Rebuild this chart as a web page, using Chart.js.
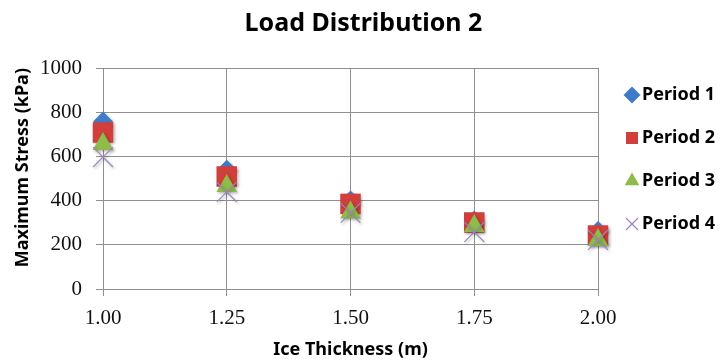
<!DOCTYPE html>
<html>
<head>
<meta charset="utf-8">
<script src="https://cdn.jsdelivr.net/npm/chart.js@4.4.1/dist/chart.umd.min.js"></script>
<style>
  body { margin: 0; background: #fff; }
  #wrap { width: 720px; height: 362px; }
</style>
</head>
<body>
<div id="wrap"><canvas id="stressChart"></canvas></div>
<script>
// Ice thickness (m) on the x axis
const thickness = [1.00, 1.25, 1.50, 1.75, 2.00];

// Maximum stress (kPa) per period
const period1 = [758, 540, 400, 310, 262];
const period2 = [708, 509, 385, 301, 242];
const period3 = [656, 466, 346, 285, 222];
const period4 = [597, 439, 344, 258, 222];

const seriesNames = ['Period 1', 'Period 2', 'Period 3', 'Period 4'];

const gridColor = '#8f8f8f';

function points(values) {
  return thickness.map((t, i) => ({ x: t, y: values[i] }));
}

function makeSeries(label, values, style, color, radius, order) {
  const isCross = style === 'crossRot';
  return {
    label: label,
    data: points(values),
    pointStyle: style,
    pointRadius: radius,
    pointHoverRadius: radius,
    backgroundColor: color,
    borderColor: color,
    pointBorderWidth: isCross ? 1.2 : 0,
    showLine: false,
    clip: false,
    order: order
  };
}

// soft drop shadow under the markers, like the office chart
const markerShadow = {
  id: 'markerShadow',
  beforeDatasetsDraw(chart) {
    const c = chart.ctx;
    c.save();
    c.shadowColor = 'rgba(0,0,0,0.3)';
    c.shadowBlur = 3;
    c.shadowOffsetX = 1.5;
    c.shadowOffsetY = 1.5;
  },
  afterDatasetsDraw(chart) {
    chart.ctx.restore();
  }
};

const ctx = document.getElementById('stressChart').getContext('2d');

new Chart(ctx, {
  type: 'scatter',
  data: {
    datasets: [
      makeSeries(seriesNames[0], period1, 'rectRot', '#3f7bc8', 10, 4),
      makeSeries(seriesNames[1], period2, 'rect', '#d03f3c', 14.5, 3),
      makeSeries(seriesNames[2], period3, 'triangle', '#8fbb48', 12, 2),
      makeSeries(seriesNames[3], period4, 'crossRot', '#9a84c0', 14, 1)
    ]
  },
  plugins: [markerShadow],
  options: {
    responsive: true,
    maintainAspectRatio: false,
    animation: false,
    layout: { padding: { left: 12, right: 5, top: 0, bottom: 0 } },
    plugins: {
      title: {
        display: true,
        text: 'Load Distribution 2',
        color: '#000',
        font: { family: 'Noto Sans', size: 25, weight: 'bold' },
        padding: { top: 8.5, bottom: 29.5 }
      },
      legend: {
        position: 'right',
        align: 'start',
        maxWidth: 117,
        title: {
          display: true,
          text: '',
          font: { size: 10, lineHeight: 1 },
          padding: { top: 51, bottom: 0 }
        },
        labels: {
          usePointStyle: true,
          boxWidth: 18,
          boxHeight: 12,
          padding: 25,
          textAlign: 'right',
          color: '#000',
          font: { family: 'Noto Sans', size: 18, weight: 'bold' },
          sort: (a, b) => a.datasetIndex - b.datasetIndex
        }
      },
      tooltip: { enabled: false }
    },
    scales: {
      x: {
        type: 'linear',
        min: 1,
        max: 2,
        afterFit: scale => { scale.height = 73; },
        ticks: {
          stepSize: 0.25,
          padding: 9.4,
          color: '#111',
          font: { family: 'Liberation Serif', size: 21 },
          callback: v => v.toFixed(2)
        },
        grid: { color: gridColor, tickLength: 7, tickColor: gridColor },
        border: { color: gridColor },
        title: {
          display: true,
          text: 'Ice Thickness (m)',
          color: '#000',
          font: { family: 'Noto Sans', size: 18, weight: 'bold' },
          padding: { top: 8.6, bottom: 1.2 }
        }
      },
      y: {
        min: 0,
        max: 1000,
        afterFit: scale => { scale.width = 91; },
        ticks: {
          stepSize: 200,
          padding: 14,
          color: '#111',
          font: { family: 'Liberation Serif', size: 21 },
          callback: v => String(v)
        },
        grid: { color: gridColor, tickLength: 7, tickColor: gridColor },
        border: { color: gridColor },
        title: {
          display: true,
          text: 'Maximum Stress (kPa)',
          align: 'end',
          color: '#000',
          font: { family: 'Noto Sans', size: 18, weight: 'bold' },
          padding: { top: 0, bottom: 6.4 }
        }
      }
    }
  }
});
</script>
</body>
</html>
